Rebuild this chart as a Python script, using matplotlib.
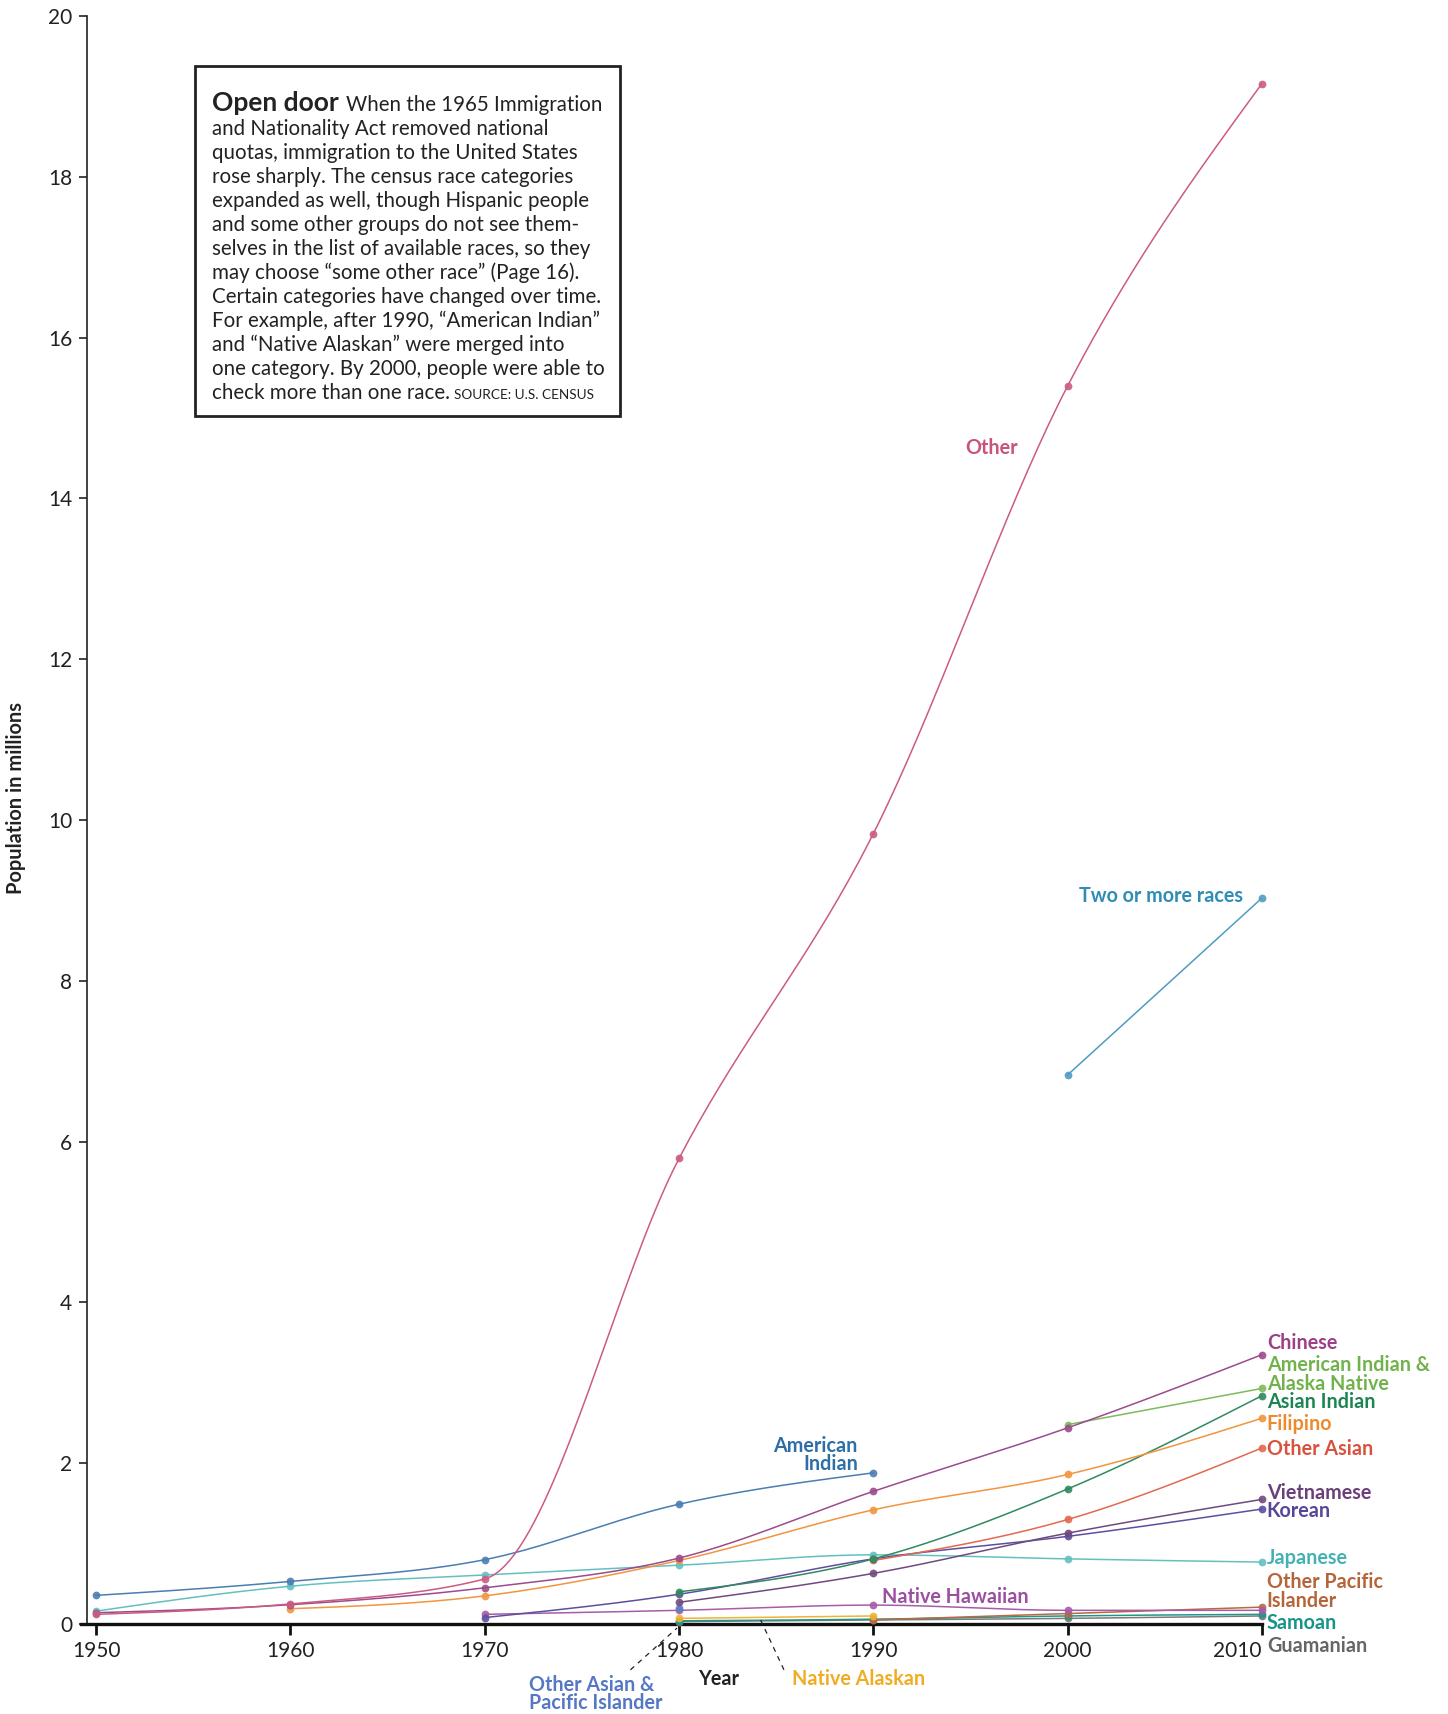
import numpy as np
import matplotlib
matplotlib.use("Agg")
import matplotlib.pyplot as plt
from matplotlib.patches import Rectangle

plt.rcParams['font.family'] = ['Lato', 'DejaVu Sans']

# ---------------- data (millions) ----------------
other_years = [1950, 1960, 1970, 1980, 1990, 2000, 2010]
other_vals = [0.12, 0.25, 0.56, 5.79, 9.83, 15.40, 19.16]

two_years = [2000, 2010]
two_vals = [6.83, 9.03]

amind_years = [1950, 1960, 1970, 1980, 1990]
amind_vals = [0.356, 0.53, 0.80, 1.49, 1.88]

japanese_years = [1950, 1960, 1970, 1980, 1990, 2000, 2010]
japanese_vals = [0.16, 0.47, 0.61, 0.73, 0.86, 0.81, 0.77]

chinese_years = [1950, 1960, 1970, 1980, 1990, 2000, 2010]
chinese_vals = [0.14, 0.24, 0.45, 0.82, 1.65, 2.44, 3.35]

filipino_years = [1960, 1970, 1980, 1990, 2000, 2010]
filipino_vals = [0.19, 0.35, 0.79, 1.42, 1.86, 2.56]

aian_years = [2000, 2010]
aian_vals = [2.48, 2.93]

asianind_years = [1980, 1990, 2000, 2010]
asianind_vals = [0.40, 0.81, 1.68, 2.84]

otherasian_years = [1990, 2000, 2010]
otherasian_vals = [0.79, 1.30, 2.19]

vietnamese_years = [1980, 1990, 2000, 2010]
vietnamese_vals = [0.27, 0.63, 1.13, 1.55]

korean_years = [1970, 1980, 1990, 2000, 2010]
korean_vals = [0.08, 0.37, 0.81, 1.09, 1.43]

nhawaiian_years = [1970, 1980, 1990, 2000, 2010]
nhawaiian_vals = [0.12, 0.17, 0.235, 0.17, 0.17]

opi_years = [1990, 2000, 2010]
opi_vals = [0.05, 0.13, 0.21]

samoan_years = [1980, 1990, 2000, 2010]
samoan_vals = [0.04, 0.06, 0.10, 0.12]

guam_years = [1980, 1990, 2000, 2010]
guam_vals = [0.03, 0.05, 0.07, 0.10]

nalaskan_years = [1980, 1990]
nalaskan_vals = [0.07, 0.10]

oapi_years = [1980]
oapi_vals = [0.195]

x_ticks = [1950, 1960, 1970, 1980, 1990, 2000, 2010]
y_ticks = [0, 2, 4, 6, 8, 10, 12, 14, 16, 18, 20]

# ---------------- helpers ----------------
def monotone_curve(xs, ys, n=40):
    xs = np.asarray(xs, float)
    ys = np.asarray(ys, float)
    if len(xs) <= 2:
        return xs, ys
    h = np.diff(xs)
    s = np.diff(ys) / h
    m = np.zeros(len(xs))
    for i in range(1, len(xs) - 1):
        s0, s1 = s[i - 1], s[i]
        h0, h1 = h[i - 1], h[i]
        p = (s0 * h1 + s1 * h0) / (h0 + h1)
        m[i] = (np.sign(s0) + np.sign(s1)) * min(abs(s0), abs(s1), 0.5 * abs(p))
    m[0] = (3 * s[0] - m[1]) / 2
    m[-1] = (3 * s[-1] - m[-2]) / 2
    outx, outy = [], []
    for i in range(len(xs) - 1):
        t = np.linspace(0, 1, n)
        hh = h[i]
        h00 = 2 * t**3 - 3 * t**2 + 1
        h10 = t**3 - 2 * t**2 + t
        h01 = -2 * t**3 + 3 * t**2
        h11 = t**3 - t**2
        yy = h00 * ys[i] + h10 * hh * m[i] + h01 * ys[i + 1] + h11 * hh * m[i + 1]
        outx.append(xs[i] + t * hh)
        outy.append(yy)
    return np.concatenate(outx), np.concatenate(outy)


W, H = 1448, 1714
fig = plt.figure(figsize=(W / 100, H / 100), dpi=100)
ax = fig.add_axes([80.5 / W, 90 / H, (1262 - 80.5) / W, (1624 - 16) / H])

series = [
    (guam_years, guam_vals, '#7a7a7a'),
    (samoan_years, samoan_vals, '#1f978a'),
    (opi_years, opi_vals, '#b96a40'),
    (nalaskan_years, nalaskan_vals, '#f2b232'),
    (nhawaiian_years, nhawaiian_vals, '#a65ca8'),
    (oapi_years, oapi_vals, '#5b80c8'),
    (japanese_years, japanese_vals, '#64c0c0'),
    (korean_years, korean_vals, '#5f4ea0'),
    (vietnamese_years, vietnamese_vals, '#70497f'),
    (otherasian_years, otherasian_vals, '#e2694f'),
    (asianind_years, asianind_vals, '#2f8a5f'),
    (filipino_years, filipino_vals, '#f1953f'),
    (aian_years, aian_vals, '#7fba5c'),
    (chinese_years, chinese_vals, '#9c4b8c'),
    (amind_years, amind_vals, '#4a7db2'),
    (two_years, two_vals, '#4f9cc0'),
    (other_years, other_vals, '#cc5b82'),
]

for xs, ys, c in series:
    cx, cy = monotone_curve(xs, ys)
    if len(xs) > 1:
        ax.plot(cx, cy, color=c, lw=1.1, solid_capstyle='round', zorder=2)
    ax.plot(xs, ys, 'o', color=c, ms=5.6, mec='none', alpha=0.9, zorder=3, clip_on=False)

ax.set_xlim(1949.2, 2010)
ax.set_ylim(0, 20)
for sp in ['top', 'right']:
    ax.spines[sp].set_visible(False)
ax.spines['left'].set_position(('data', 1949.55))
ax.spines['left'].set_linewidth(1.2)
ax.spines['left'].set_color('#222222')
ax.spines['bottom'].set_linewidth(2.4)
ax.spines['bottom'].set_color('#111111')
ax.set_xticks(x_ticks)
ax.set_xticklabels([str(v) for v in x_ticks])
ax.set_yticks(y_ticks)
ax.set_yticklabels([str(v) for v in y_ticks])
ax.tick_params(axis='x', length=8, width=2, colors='#111111', labelsize=15,
               pad=4, labelcolor='#222222')
ax.tick_params(axis='y', length=6, width=1.2, colors='#222222', labelsize=15,
               pad=5, labelcolor='#222222')
xtl = ax.get_xticklabels()
xtl[-1].set_horizontalalignment('right')

# ---------------- labels ----------------
lab = dict(fontsize=14.2, fontweight='bold', clip_on=False, zorder=5)
right_labels = [
    ('Chinese', 3.49, '#9c3f86'),
    ('American Indian &', 3.22, '#72b24d'),
    ('Alaska Native', 2.99, '#72b24d'),
    ('Asian Indian', 2.76, '#1c8553'),
    ('Filipino', 2.49, '#ee8a2e'),
    ('Other Asian', 2.18, '#d9513f'),
    ('Vietnamese', 1.63, '#6a3f7a'),
    ('Korean', 1.40, '#5a4598'),
    ('Japanese', 0.82, '#45b1b2'),
    ('Other Pacific', 0.52, '#b5653a'),
    ('Islander', 0.29, '#b5653a'),
    ('Samoan', 0.01, '#17938a'),
    ('Guamanian', -0.27, '#666666'),
]
for t, y, c in right_labels:
    ax.text(2010.25, y, t, color=c, ha='left', va='center', **lab)

ax.text(1994.75, 14.63, 'Other', color='#c9537c', ha='left', va='center', **lab)
ax.text(2000.6, 9.05, 'Two or more races', color='#2f8db5', ha='left', va='center', **lab)
ax.text(1989.2, 2.22, 'American', color='#2d6ea6', ha='right', va='center', **lab)
ax.text(1989.2, 1.99, 'Indian', color='#2d6ea6', ha='right', va='center', **lab)
ax.text(1990.45, 0.33, 'Native Hawaiian', color='#9a4fa0', ha='left', va='center', **lab)
ax.text(1985.8, -0.69, 'Native Alaskan', color='#f0ac22', ha='left', va='center', **lab)
ax.text(1972.3, -0.76, 'Other Asian &', color='#5478c4', ha='left', va='center', **lab)
ax.text(1972.3, -0.98, 'Pacific Islander', color='#5478c4', ha='left', va='center', **lab)
ax.text(1982.05, -0.69, 'Year', color='#222222', ha='center', va='center', **lab)

ax.plot([1977.5, 1979.9], [-0.57, -0.05], ls=(0, (4, 4)), color='#222222', lw=0.9,
        clip_on=False, zorder=4)
ax.plot([1984.2, 1985.4], [0.05, -0.57], ls=(0, (4, 4)), color='#222222', lw=0.9,
        clip_on=False, zorder=4)

fig.text(16 / W, 1 - 798 / H, 'Population in millions', rotation=90, ha='center',
         va='center', fontsize=14.4, fontweight='bold', color='#222222')

# ---------------- annotation box ----------------
fig.patches.append(Rectangle((194.5 / W, 1 - 416.4 / H), (619.6 - 194.5) / W,
                             (416.4 - 65.6) / H, transform=fig.transFigure,
                             fill=True, facecolor='white', edgecolor='#222222',
                             lw=2.0, zorder=10))

box_lines = [
    None,
    'and Nationality Act removed national',
    'quotas, immigration to the United States',
    'rose sharply. The census race categories',
    'expanded as well, though Hispanic people',
    'and some other groups do not see them-',
    'selves in the list of available races, so they',
    'may choose \u201csome other race\u201d (Page 16).',
    'Certain categories have changed over time.',
    'For example, after 1990, \u201cAmerican Indian\u201d',
    'and \u201cNative Alaskan\u201d were merged into',
    'one category. By 2000, people were able to',
    'check more than one race.',
]
x0 = 212 / W
base0 = 111.0
step = 24.04
for i, line in enumerate(box_lines):
    yb = 1 - (base0 + i * step) / H
    if line is None:
        fig.text(x0, yb, 'Open door', fontsize=19, fontweight='bold',
                 color='#222222', va='baseline', ha='left', zorder=11)
        fig.text(346.4 / W, yb, 'When the 1965 Immigration', fontsize=14.8,
                 color='#222222', va='baseline', ha='left', zorder=11)
    else:
        fig.text(x0, yb, line, fontsize=14.8, color='#222222', va='baseline',
                 ha='left', zorder=11)
fig.text(453.5 / W, 1 - (base0 + 12 * step) / H, 'SOURCE: U.S. CENSUS', fontsize=9.8,
         color='#222222', va='baseline', ha='left', zorder=11)

fig.savefig('out.png', dpi=100, facecolor='white')
